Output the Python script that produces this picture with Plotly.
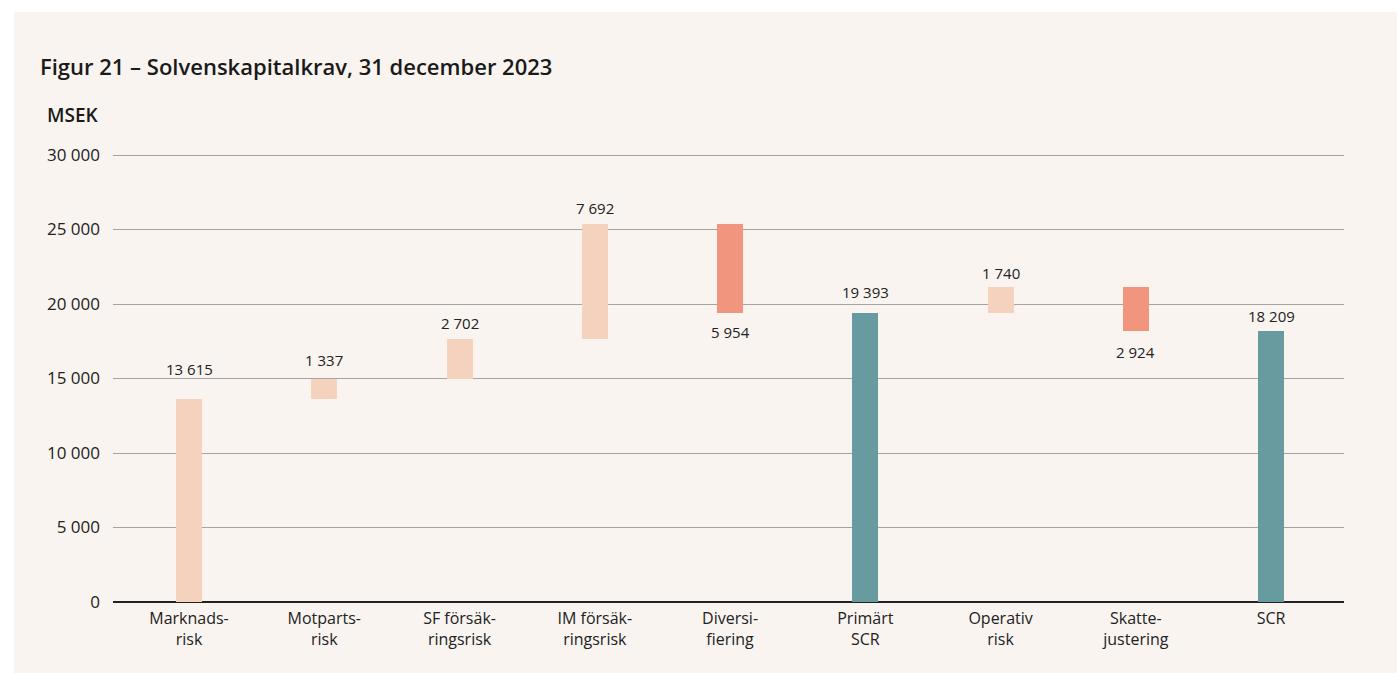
import plotly.graph_objects as go

categories = ["Marknads-<br>risk", "Motparts-<br>risk", "SF försäk-<br>ringsrisk", "IM försäk-<br>ringsrisk",
              "Diversi-<br>fiering", "Primärt<br>SCR", "Operativ<br>risk", "Skatte-<br>justering", "SCR"]
values = [13615, 1337, 2702, 7692, -5954, 19393, 1740, -2924, 18209]
kinds = ["inc", "inc", "inc", "inc", "dec", "total", "inc", "dec", "total"]
value_labels = ["13 615", "1 337", "2 702", "7 692", "5 954", "19 393", "1 740", "2 924", "18 209"]
y_tickvals = [0, 5000, 10000, 15000, 20000, 25000, 30000]
y_ticktext = ["0", "5 000", "10 000", "15 000", "20 000", "25 000", "30 000"]

# styles
label_gap = [20, 9, 6, 6, 9, 11, 4, 11, 5]
colors = {"inc": "#f4d2bd", "dec": "#f2957e", "total": "#679ba0"}
BG = "#f9f4f0"
TXT = "#222222"
FONT = "'Open Sans', sans-serif"

bases, lengths = [], []
running = 0
for v, k in zip(values, kinds):
    if k == "total":
        bases.append(0)
        lengths.append(v)
        running = v
    else:
        bases.append(running)
        lengths.append(v)
        running += v

xs = list(range(len(categories)))
fig = go.Figure()
fig.add_trace(go.Bar(
    x=xs, y=lengths, base=bases, width=0.192,
    marker=dict(color=[colors[k] for k in kinds], line=dict(width=0)),
    hoverinfo="skip", showlegend=False,
))

for i, (b, l, t) in enumerate(zip(bases, lengths, value_labels)):
    if l >= 0:
        fig.add_annotation(x=i, y=b + l, text=t, showarrow=False, yanchor="bottom",
                           yshift=label_gap[i] - 2, font=dict(size=15, color=TXT, family=FONT))
    else:
        fig.add_annotation(x=i, y=b + l, text=t, showarrow=False, yanchor="top",
                           yshift=-label_gap[i] + 2, font=dict(size=15, color=TXT, family=FONT))

W, H = 1397, 673
L, R, T, B = 113, 53, 150, 71
pw, ph = W - L - R, H - T - B
ytop = 30000 * ph / 447.0

fig.add_shape(type="rect", xref="paper", yref="paper",
              x0=(14 - L) / pw, x1=(W - L) / pw, y0=-(B) / ph, y1=(H - B - 12) / ph,
              fillcolor=BG, line=dict(width=0), layer="below")

fig.add_annotation(xref="paper", yref="paper", x=(38 - L) / pw, y=(H - B - 66) / ph,
                   xanchor="left", yanchor="middle", showarrow=False,
                   text="Figur 21 – Solvenskapitalkrav, 31 december 2023",
                   font=dict(size=22, color="#1a1a1a", family=FONT, weight=600))
fig.add_annotation(xref="paper", yref="paper", x=(45 - L) / pw, y=(H - B - 115) / ph,
                   xanchor="left", yanchor="middle", showarrow=False,
                   text="MSEK", font=dict(size=19, color="#1a1a1a", family=FONT, weight=600))

fig.update_layout(
    width=W, height=H, margin=dict(l=L, r=R, t=T, b=B, autoexpand=False),
    paper_bgcolor="white", plot_bgcolor="rgba(0,0,0,0)",
    font=dict(family=FONT, size=15, color=TXT),
    xaxis=dict(range=[-0.562, 8.539], tickvals=xs, ticktext=categories, showgrid=False,
               zeroline=False, showline=False, ticks="", tickfont=dict(size=16, color=TXT),
               fixedrange=True, ticklabelstandoff=5),
    yaxis=dict(range=[0, ytop], tickvals=y_tickvals, ticktext=y_ticktext, showgrid=True,
               gridcolor="#a3a3a3", gridwidth=1, zeroline=True, zerolinecolor="#222222",
               zerolinewidth=1.5, showline=False, ticks="", ticklabelstandoff=12,
               tickfont=dict(size=17, color=TXT), fixedrange=True),
    bargap=0,
)

fig.write_html("out.html")
